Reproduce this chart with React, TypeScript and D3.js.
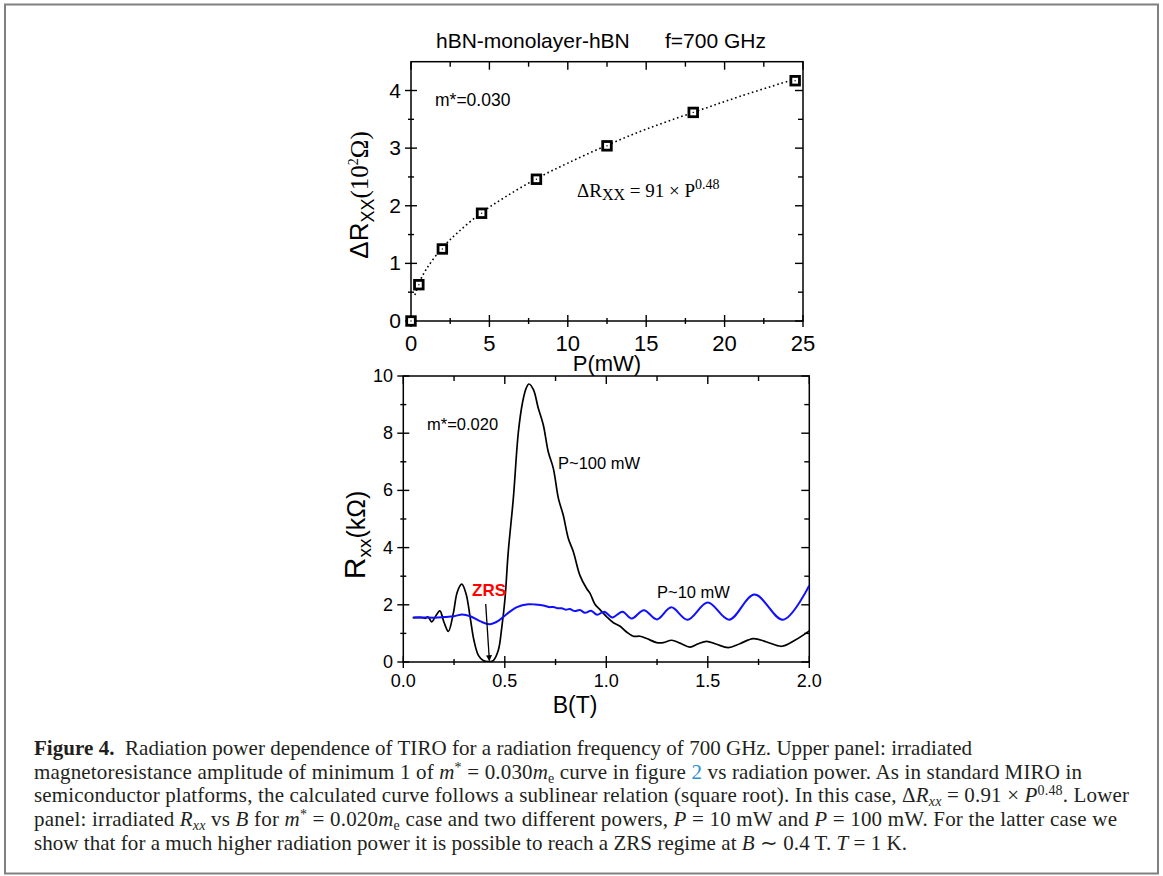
import React, { useEffect, useRef } from 'react';
import * as d3 from 'd3';

// upper panel: amplitude of minimum 1 vs radiation power
const powerMW = [0, 0.5, 2, 4.5, 8, 12.5, 18, 24.5];
const deltaRxx = [0, 0.63, 1.25, 1.87, 2.46, 3.04, 3.62, 4.17];
// dotted fit curve
const fitPower = [0.25, 0.5, 1, 2, 3, 4.5, 6, 8, 10, 12.5, 15, 18, 21, 24.5];
const fitDeltaR = [0.45, 0.65, 0.91, 1.27, 1.54, 1.88, 2.15, 2.47, 2.74, 3.05, 3.33, 3.62, 3.9, 4.2];
const powerTicks = [0, 5, 10, 15, 20, 25];
const deltaTicks = [0, 1, 2, 3, 4];

// lower panel: Rxx vs B, P~100 mW (black)
const fieldHigh = [0.046, 0.09, 0.11, 0.12, 0.13, 0.14, 0.155, 0.18, 0.2, 0.222, 0.246, 0.266, 0.288, 0.309,
  0.329, 0.348, 0.37, 0.394, 0.419, 0.443, 0.468, 0.485, 0.501, 0.517, 0.542, 0.567, 0.588, 0.605, 0.619,
  0.641, 0.665, 0.69, 0.714, 0.739, 0.764, 0.788, 0.813, 0.838, 0.87, 0.903, 0.92, 0.944, 0.969, 1.002,
  1.035, 1.068, 1.1, 1.133, 1.166, 1.199, 1.248, 1.281, 1.322, 1.363, 1.412, 1.453, 1.494, 1.543, 1.601,
  1.658, 1.724, 1.79, 1.864, 1.929, 2.0];
const rxxHigh = [1.55, 1.55, 1.53, 1.58, 1.5, 1.4, 1.55, 1.79, 1.4, 1.07, 1.69, 2.45, 2.72, 2.39,
  1.58, 0.76, 0.23, 0.05, 0.01, 0.05, 0.41, 1.2, 2.22, 3.85, 5.72, 8.05, 9.1, 9.57, 9.72,
  9.52, 8.87, 8.28, 7.35, 6.77, 5.72, 5.13, 4.32, 3.85, 3.03, 2.57, 2.4, 2.02, 1.83, 1.58,
  1.37, 1.25, 1.05, 0.9, 0.9, 0.82, 0.68, 0.68, 0.76, 0.66, 0.52, 0.64, 0.72, 0.62, 0.5,
  0.64, 0.82, 0.7, 0.55, 0.76, 1.09];

// lower panel: P~10 mW (blue)
const fieldLow = [0.05, 0.1, 0.15, 0.2, 0.25, 0.29, 0.33, 0.38, 0.425, 0.47, 0.51, 0.56, 0.615, 0.65,
  0.675, 0.7, 0.72, 0.74, 0.76, 0.78, 0.8, 0.82, 0.845, 0.87, 0.895, 0.925, 0.955, 0.99, 1.03, 1.08,
  1.125, 1.185, 1.25, 1.32, 1.4, 1.5, 1.605, 1.73, 1.87, 2.0];
const rxxLow = [1.56, 1.56, 1.55, 1.57, 1.6, 1.66, 1.6, 1.42, 1.32, 1.45, 1.68, 1.92, 2.02, 2.01,
  1.99, 1.96, 1.92, 1.92, 1.88, 1.88, 1.83, 1.85, 1.78, 1.82, 1.72, 1.79, 1.65, 1.76, 1.56, 1.76,
  1.52, 1.81, 1.49, 1.91, 1.48, 2.08, 1.48, 2.36, 1.48, 2.68];
const fieldTicks = [0, 0.5, 1, 1.5, 2];
const fieldTickLabels = ['0.0', '0.5', '1.0', '1.5', '2.0'];
const rxxTicks = [0, 2, 4, 6, 8, 10];

const SANS = 'Liberation Sans, Arial, sans-serif';
const SERIF = 'Liberation Serif, Times New Roman, serif';

type Seg = { t: string; i?: boolean; b?: boolean; sub?: boolean; sup?: boolean; c?: string };
const captionLines: Seg[][] = [
  [{ t: 'Figure 4.', b: true }, { t: '\u00a0\u00a0Radiation power dependence of TIRO for a radiation frequency of 700 GHz. Upper panel: irradiated' }],
  [{ t: 'magnetoresistance amplitude of minimum 1 of ' }, { t: 'm', i: true }, { t: '*', sup: true },
    { t: ' = 0.030' }, { t: 'm', i: true }, { t: 'e', sub: true }, { t: ' curve in figure ' }, { t: '2', c: '#2a8fd8' },
    { t: ' vs radiation power. As in standard MIRO in' }],
  [{ t: 'semiconductor platforms, the calculated curve follows a sublinear relation (square root). In this case, \u0394' },
    { t: 'R', i: true }, { t: 'xx', i: true, sub: true }, { t: ' = 0.91 \u00d7 ' }, { t: 'P', i: true }, { t: '0.48', sup: true },
    { t: '. Lower' }],
  [{ t: 'panel: irradiated ' }, { t: 'R', i: true }, { t: 'xx', i: true, sub: true }, { t: ' vs ' }, { t: 'B', i: true },
    { t: ' for ' }, { t: 'm', i: true }, { t: '*', sup: true }, { t: ' = 0.020' }, { t: 'm', i: true }, { t: 'e', sub: true },
    { t: ' case and two different powers, ' }, { t: 'P', i: true }, { t: ' = 10 mW and ' }, { t: 'P', i: true },
    { t: ' = 100 mW. For the latter case we' }],
  [{ t: 'show that for a much higher radiation power it is possible to reach a ZRS regime at ' }, { t: 'B', i: true },
    { t: ' \u223c 0.4 T. ' }, { t: 'T', i: true }, { t: ' = 1 K.' }],
];
const captionEnds = [972, 1082, 1129, 1117, 907];

function drawFrame(g: any, x: any, y: any, xMajor: number[], xMinor: number[], yMajor: number[], yMinor: number[]) {
  const [x0, x1] = x.range();
  const [y0, y1] = y.range();
  g.append('rect').attr('x', x0).attr('y', y1).attr('width', x1 - x0).attr('height', y0 - y1)
    .attr('fill', 'none').attr('stroke', '#000').attr('stroke-width', 1.5);
  const tick = (x1_: number, y1_: number, x2_: number, y2_: number) =>
    g.append('line').attr('x1', x1_).attr('y1', y1_).attr('x2', x2_).attr('y2', y2_)
      .attr('stroke', '#000').attr('stroke-width', 1.4);
  xMajor.forEach(v => { tick(x(v), y0 - 6, x(v), y0 + 6); tick(x(v), y1, x(v), y1 + 8); });
  xMinor.forEach(v => { tick(x(v), y0 - 3, x(v), y0 + 3); tick(x(v), y1, x(v), y1 + 5); });
  yMajor.forEach(v => { tick(x0 - 6, y(v), x0 + 6, y(v)); tick(x1 - 8, y(v), x1, y(v)); });
  yMinor.forEach(v => { tick(x0 - 3, y(v), x0 + 3, y(v)); tick(x1 - 5, y(v), x1, y(v)); });
}

export default function App() {
  const ref = useRef<SVGSVGElement>(null);

  useEffect(() => {
    const svg = d3.select(ref.current);
    svg.selectAll('*').remove();

    // outer frame of the figure
    svg.append('rect').attr('x', 5).attr('y', 4.5).attr('width', 1153).attr('height', 869)
      .attr('fill', 'none').attr('stroke', '#808080').attr('stroke-width', 2);

    // ---------- upper panel ----------
    const top = svg.append('g');
    const xP = d3.scaleLinear().domain([0, 25]).range([411, 803]);
    const yD = d3.scaleLinear().domain([0, 4.5]).range([321, 61.7]);
    drawFrame(top, xP, yD, powerTicks, d3.range(2.5, 25, 5), deltaTicks, d3.range(0.5, 4.5, 1));

    top.selectAll('.xl').data(powerTicks).enter().append('text')
      .attr('x', d => xP(d)).attr('y', 351).attr('text-anchor', 'middle')
      .style('font-family', SANS).style('font-size', '22px').text(d => d);
    top.selectAll('.yl').data(deltaTicks).enter().append('text')
      .attr('x', 401).attr('y', d => yD(d) + 7).attr('text-anchor', 'end')
      .style('font-family', SANS).style('font-size', '21px').text(d => d);

    const fitLine = d3.line<number>().x((d, i) => xP(fitPower[i])).y(d => yD(d)).curve(d3.curveCatmullRom);
    top.append('path').attr('d', fitLine(fitDeltaR)).attr('fill', 'none').attr('stroke', '#000')
      .attr('stroke-width', 1.6).attr('stroke-dasharray', '1.6,2.8');

    const marks = top.selectAll('.pt').data(deltaRxx).enter().append('g')
      .attr('transform', (d, i) => `translate(${xP(powerMW[i])},${yD(d)})`);
    marks.append('rect').attr('x', -4.3).attr('y', -4.3).attr('width', 8.6).attr('height', 8.6)
      .attr('fill', '#fff').attr('stroke', '#000').attr('stroke-width', 2.8);
    marks.append('rect').attr('x', -0.6).attr('y', -0.6).attr('width', 1.2).attr('height', 1.2).attr('fill', '#000');

    top.append('text').attr('x', 436).attr('y', 48).style('font-family', SANS).style('font-size', '21px')
      .text('hBN-monolayer-hBN');
    top.append('text').attr('x', 665).attr('y', 48).style('font-family', SANS).style('font-size', '21px')
      .text('f=700 GHz');
    top.append('text').attr('x', 435).attr('y', 106).style('font-family', SANS).style('font-size', '17.5px')
      .text('m*=0.030');
    const eq = top.append('text').attr('x', 577).attr('y', 197).style('font-family', SERIF).style('font-size', '19px');
    eq.append('tspan').text('\u0394R');
    eq.append('tspan').attr('baseline-shift', '-3').style('font-size', '16px').text('XX');
    eq.append('tspan').text(' = 91 \u00d7 P');
    eq.append('tspan').attr('baseline-shift', '8').style('font-size', '14px').text('0.48');

    top.append('text').attr('x', 607).attr('y', 371).attr('text-anchor', 'middle')
      .style('font-family', SANS).style('font-size', '22px').text('P(mW)');
    const yl1 = top.append('text').attr('transform', 'translate(368,195) rotate(-90)')
      .attr('text-anchor', 'middle');
    yl1.append('tspan').style('font-family', SANS).style('font-size', '26px').text('\u0394R');
    yl1.append('tspan').attr('dy', 6).style('font-family', SANS).style('font-size', '18px').text('XX');
    yl1.append('tspan').attr('dy', -6).style('font-family', SERIF).style('font-size', '25px').text('(10');
    yl1.append('tspan').attr('dy', -10).style('font-family', SERIF).style('font-size', '14px').text('2');
    yl1.append('tspan').attr('dy', 10).style('font-family', SERIF).style('font-size', '25px').text('\u03a9)');

    // ---------- lower panel ----------
    const bot = svg.append('g');
    const xB = d3.scaleLinear().domain([0, 2]).range([403.3, 809.3]);
    const yR = d3.scaleLinear().domain([0, 10]).range([662, 376]);
    drawFrame(bot, xB, yR, fieldTicks, d3.range(0.25, 2, 0.5), rxxTicks, d3.range(1, 10, 2));

    bot.selectAll('.xl').data(fieldTicks).enter().append('text')
      .attr('x', d => xB(d)).attr('y', 687).attr('text-anchor', 'middle')
      .style('font-family', SANS).style('font-size', '18px').text((d, i) => fieldTickLabels[i]);
    bot.selectAll('.yl').data(rxxTicks).enter().append('text')
      .attr('x', 393).attr('y', d => yR(d) + 6).attr('text-anchor', 'end')
      .style('font-family', SANS).style('font-size', '18px').text(d => d);

    const clip = bot.append('clipPath').attr('id', 'clipB');
    clip.append('rect').attr('x', 403.3).attr('y', 376).attr('width', 406).attr('height', 286);
    const lineLow = d3.line<number>().x((d, i) => xB(fieldLow[i])).y(d => yR(d)).curve(d3.curveCatmullRom);
    const lineHigh = d3.line<number>().x((d, i) => xB(fieldHigh[i])).y(d => yR(d)).curve(d3.curveCatmullRom);
    bot.append('path').attr('clip-path', 'url(#clipB)').attr('d', lineHigh(rxxHigh)).attr('fill', 'none')
      .attr('stroke', '#000').attr('stroke-width', 1.7);
    bot.append('path').attr('clip-path', 'url(#clipB)').attr('d', lineLow(rxxLow)).attr('fill', 'none')
      .attr('stroke', '#1010ff').attr('stroke-width', 2);

    bot.append('text').attr('x', 427).attr('y', 430).style('font-family', SANS).style('font-size', '16.5px')
      .text('m*=0.020');
    bot.append('text').attr('x', 558).attr('y', 469).style('font-family', SANS).style('font-size', '16.5px')
      .text('P~100 mW');
    bot.append('text').attr('x', 657).attr('y', 598).style('font-family', SANS).style('font-size', '16.5px')
      .text('P~10 mW');
    bot.append('text').attr('x', 472).attr('y', 596).style('font-family', SANS).style('font-size', '17px')
      .style('font-weight', 'bold').attr('fill', '#ff0000').text('ZRS');

    // arrow to the ZRS minimum
    const defs = svg.append('defs');
    defs.append('marker').attr('id', 'arrowHead').attr('viewBox', '0 0 10 10').attr('refX', 9).attr('refY', 5)
      .attr('markerWidth', 6).attr('markerHeight', 8).attr('orient', 'auto-start-reverse')
      .attr('markerUnits', 'userSpaceOnUse')
      .append('path').attr('d', 'M0,0 L10,5 L0,10 Z').attr('fill', '#000');
    bot.append('line').attr('x1', 485.7).attr('y1', 604).attr('x2', xB(0.424)).attr('y2', yR(0.05))
      .attr('stroke', '#000').attr('stroke-width', 1.3).attr('marker-end', 'url(#arrowHead)');

    bot.append('text').attr('x', 575).attr('y', 713).attr('text-anchor', 'middle')
      .style('font-family', SANS).style('font-size', '23px').text('B(T)');
    const yl2 = bot.append('text').attr('transform', 'translate(365,535) rotate(-90)')
      .attr('text-anchor', 'middle');
    yl2.append('tspan').style('font-family', SANS).style('font-size', '30px').text('R');
    yl2.append('tspan').attr('dy', 6).style('font-family', SANS).style('font-size', '19px').text('xx');
    yl2.append('tspan').attr('dy', -6).style('font-family', SANS).style('font-size', '25px').text('(k\u03a9)');

    // ---------- caption ----------
    const cap = svg.append('g').style('font-family', SERIF).style('font-size', '21px').attr('fill', '#231f20');
    captionLines.forEach((segs, li) => {
      const t = cap.append('text').attr('x', 34).attr('y', 755 + li * 23.7)
        .attr('textLength', captionEnds[li] - 34).attr('lengthAdjust', 'spacing');
      segs.forEach(s => {
        const ts = t.append('tspan').text(s.t);
        if (s.i) ts.style('font-style', 'italic');
        if (s.b) ts.style('font-weight', 'bold');
        if (s.c) ts.attr('fill', s.c);
        if (s.sub) ts.attr('baseline-shift', '-4').style('font-size', '14px');
        if (s.sup) ts.attr('baseline-shift', '7').style('font-size', '14px');
      });
    });
  }, []);

  return (
    <svg ref={ref} width={1163} height={876}
      style={{ position: 'absolute', left: 0, top: 0, background: '#fff' }} />
  );
}
